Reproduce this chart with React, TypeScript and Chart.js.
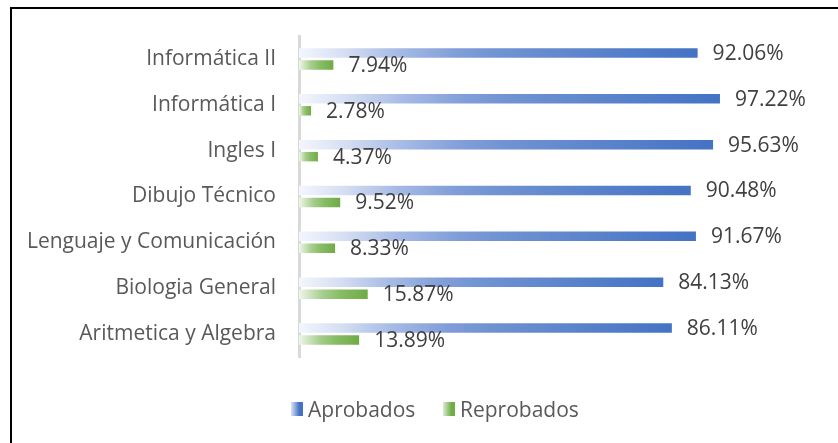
import React, { useEffect, useRef } from "react";
import { Chart, registerables } from "chart.js";

Chart.register(...registerables);

const categories = [
  "Informática II",
  "Informática I",
  "Ingles I",
  "Dibujo Técnico",
  "Lenguaje y Comunicación",
  "Biologia General",
  "Aritmetica y Algebra",
];
const aprobados = [92.06, 97.22, 95.63, 90.48, 91.67, 84.13, 86.11];
const reprobados = [7.94, 2.78, 4.37, 9.52, 8.33, 15.87, 13.89];
const seriesNames = ["Aprobados", "Reprobados"];

const FONT = "'Open Sans', sans-serif";
const FONT_SIZE = 21;

const blueStops: [number, string][] = [
  [0, "#f3f6fc"],
  [0.12, "#d3ddf2"],
  [0.25, "#a6bae5"],
  [0.4, "#809dd8"],
  [0.5, "#7093d2"],
  [1, "#4472c4"],
];
const greenStops: [number, string][] = [
  [0, "#eff6ea"],
  [0.15, "#cfe4c0"],
  [0.35, "#a6cd8c"],
  [0.6, "#88bd66"],
  [1, "#6fab46"],
];

function gradientFor(stops: [number, string][]) {
  return (c: any) => {
    const chart = c.chart;
    const scales = chart.scales;
    if (!chart.chartArea || !scales || !scales.x || c.raw === undefined) {
      return stops[stops.length - 1][1];
    }
    const x0 = scales.x.getPixelForValue(0);
    const x1 = scales.x.getPixelForValue(c.raw);
    const g = chart.ctx.createLinearGradient(x0, 0, Math.max(x1, x0 + 1), 0);
    stops.forEach(([o, col]) => g.addColorStop(o, col));
    return g;
  };
}

const dataLabels = {
  id: "dataLabels",
  afterDatasetsDraw(chart: any) {
    const ctx = chart.ctx;
    ctx.save();
    ctx.font = `${FONT_SIZE}px ${FONT}`;
    ctx.fillStyle = "#404040";
    ctx.textAlign = "left";
    ctx.textBaseline = "middle";
    chart.data.datasets.forEach((ds: any, di: number) => {
      const meta = chart.getDatasetMeta(di);
      meta.data.forEach((el: any, i: number) => {
        const v = ds.data[i];
        ctx.fillText(v.toFixed(2) + "%", el.x + 15, el.y + 1);
      });
    });
    ctx.restore();
  },
};

export default function App() {
  const ref = useRef<HTMLCanvasElement | null>(null);
  useEffect(() => {
    if (!ref.current) return;
    const chart = new Chart(ref.current, {
      type: "bar",
      data: {
        labels: categories,
        datasets: [
          {
            label: seriesNames[0],
            data: aprobados,
            backgroundColor: gradientFor(blueStops),
            categoryPercentage: 0.523,
            barPercentage: 0.79,
          },
          {
            label: seriesNames[1],
            data: reprobados,
            backgroundColor: gradientFor(greenStops),
            categoryPercentage: 0.523,
            barPercentage: 0.79,
          },
        ],
      },
      options: {
        indexAxis: "y",
        responsive: false,
        maintainAspectRatio: false,
        animation: false,
        layout: { padding: { top: 36, bottom: 23, right: 106, left: 0 } },
        plugins: {
          legend: { display: false },
          tooltip: { enabled: false },
        },
        scales: {
          x: { display: false, min: 0, max: 100 },
          y: {
            afterFit: (s: any) => {
              s.width = 299;
            },
            grid: { display: false, drawTicks: true, tickLength: 23 },
            border: { display: true, color: "#d9d9d9", width: 3 },
            ticks: {
              padding: 0,
              color: "#595959",
              font: { family: FONT, size: FONT_SIZE },
            },
          },
        },
      },
      plugins: [dataLabels],
    });
    return () => chart.destroy();
  }, []);

  const legendText: React.CSSProperties = {
    position: "absolute",
    top: 395,
    fontFamily: FONT,
    fontSize: FONT_SIZE,
    color: "#595959",
    lineHeight: "28px",
    whiteSpace: "nowrap",
  };
  const sq = (left: number, grad: string): React.CSSProperties => ({
    position: "absolute",
    left,
    top: 402,
    width: 12,
    height: 14,
    background: grad,
  });

  return (
    <div
      style={{
        position: "fixed",
        left: 0,
        top: 0,
        width: 838,
        height: 443,
        background: "#ffffff",
        overflow: "hidden",
      }}
    >
      <canvas
        ref={ref}
        width={838}
        height={380}
        style={{ position: "absolute", left: 0, top: 0, width: 838, height: 380 }}
      />
      <div
        style={{
          position: "absolute",
          left: 10,
          top: 7,
          width: 900,
          height: 500,
          borderTop: "2px solid #000",
          borderLeft: "2px solid #000",
          pointerEvents: "none",
        }}
      />
      <div style={sq(291, "linear-gradient(to right, #dbe3f4, #4472c4 70%)")} />
      <div style={{ ...legendText, left: 308 }}>{seriesNames[0]}</div>
      <div style={sq(443, "linear-gradient(to right, #dcebd2, #70ad47 70%)")} />
      <div style={{ ...legendText, left: 460 }}>{seriesNames[1]}</div>
    </div>
  );
}
